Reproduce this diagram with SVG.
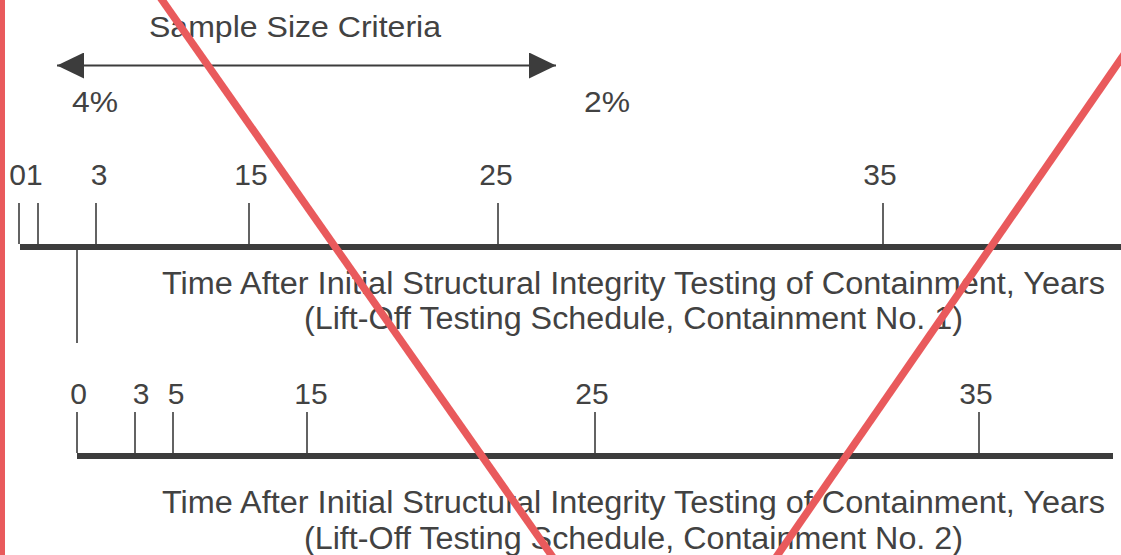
<svg xmlns="http://www.w3.org/2000/svg" width="1121" height="555" viewBox="0 0 1121 555">
<style>
  .t { font-family: "Liberation Sans", Arial, sans-serif; fill: #424242; }
  .big { font-size: 31px; }
  .num { font-size: 30px; text-anchor: middle; }
  .tick { stroke: #3c3c3c; stroke-width: 1.6; fill: none; }
  .axis { stroke: #3c3c3c; stroke-width: 6; fill: none; }
  .red { stroke: #e95a5c; stroke-width: 7.5; fill: none; }
</style>
<defs>
  <marker id="ah" viewBox="0 0 27 26" refX="27" refY="13" markerWidth="27" markerHeight="26" markerUnits="userSpaceOnUse" orient="auto-start-reverse">
    <path d="M0,0 L27,13 L0,26 Z" fill="#3c3c3c"/>
  </marker>
</defs>
<rect width="1121" height="555" fill="#ffffff"/>

<g id="criteria">
  <text class="t" x="149" y="37" font-size="29" textLength="292" lengthAdjust="spacingAndGlyphs">Sample Size Criteria</text>
  <text class="t" x="72" y="112" font-size="30" textLength="46" lengthAdjust="spacingAndGlyphs">4%</text>
  <text class="t" x="584" y="112" font-size="30" textLength="46" lengthAdjust="spacingAndGlyphs">2%</text>
</g>

<g id="connectors">
  <line x1="57" y1="65.5" x2="556" y2="65.5" stroke="#3c3c3c" stroke-width="2" marker-start="url(#ah)" marker-end="url(#ah)"/>
  <line x1="77" y1="250" x2="77" y2="343" class="tick"/>
</g>

<g id="timeline1">
  <line class="axis" x1="20" y1="247" x2="1121" y2="247"/>
  <line class="tick" x1="19" y1="203" x2="19" y2="244"/>
  <line class="tick" x1="38" y1="203" x2="38" y2="244"/>
  <line class="tick" x1="96" y1="203" x2="96" y2="244"/>
  <line class="tick" x1="249" y1="203" x2="249" y2="244"/>
  <line class="tick" x1="498" y1="203" x2="498" y2="244"/>
  <line class="tick" x1="883" y1="203" x2="883" y2="244"/>
  <text class="t num" x="26" y="185">01</text>
  <text class="t num" x="99" y="185">3</text>
  <text class="t num" x="251" y="185">15</text>
  <text class="t num" x="496" y="185">25</text>
  <text class="t num" x="880" y="185">35</text>
  <text class="t big" x="162" y="294" textLength="943" lengthAdjust="spacingAndGlyphs">Time After Initial Structural Integrity Testing of Containment, Years</text>
  <text class="t big" x="304" y="329" textLength="659" lengthAdjust="spacingAndGlyphs">(Lift-Off Testing Schedule, Containment No. 1)</text>
</g>

<g id="timeline2">
  <line class="axis" x1="77" y1="456" x2="1113" y2="456"/>
  <line class="tick" x1="77" y1="412" x2="77" y2="453"/>
  <line class="tick" x1="135" y1="412" x2="135" y2="453"/>
  <line class="tick" x1="173" y1="412" x2="173" y2="453"/>
  <line class="tick" x1="307" y1="412" x2="307" y2="453"/>
  <line class="tick" x1="595" y1="412" x2="595" y2="453"/>
  <line class="tick" x1="979" y1="412" x2="979" y2="453"/>
  <text class="t num" x="78.5" y="404">0</text>
  <text class="t num" x="141" y="404">3</text>
  <text class="t num" x="176" y="404">5</text>
  <text class="t num" x="311" y="404">15</text>
  <text class="t num" x="592" y="404">25</text>
  <text class="t num" x="976" y="404">35</text>
  <text class="t big" x="162" y="513" textLength="943" lengthAdjust="spacingAndGlyphs">Time After Initial Structural Integrity Testing of Containment, Years</text>
  <text class="t big" x="304" y="549" textLength="659" lengthAdjust="spacingAndGlyphs">(Lift-Off Testing Schedule, Containment No. 2)</text>
</g>

<g id="overlay">
  <rect x="0" y="0" width="5" height="555" fill="#e95a5c"/>
  <line class="red" x1="155" y1="-10" x2="559" y2="566"/>
  <line class="red" x1="770" y1="566" x2="1141" y2="30"/>
</g>
</svg>
